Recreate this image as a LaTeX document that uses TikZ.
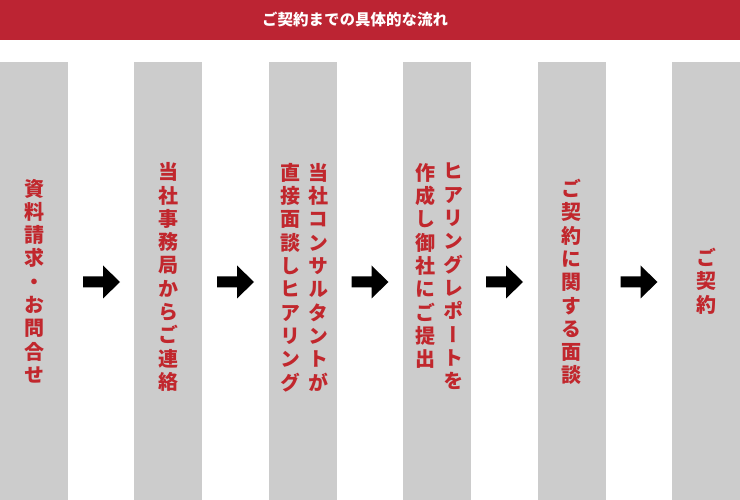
\documentclass[tikz,border=0pt]{standalone}
\usepackage{fontspec}
\newfontfamily\jp[RawFeature={+vert}]{Noto Sans CJK JP}
\definecolor{bannerred}{HTML}{BC2433}
\definecolor{txtred}{HTML}{C1272D}
\definecolor{colgray}{HTML}{CCCCCC}
\tikzset{
  colbox/.style={fill=colgray, draw=none, minimum width=68pt, minimum height=438pt, inner sep=0, anchor=north},
  vtext/.style={text=txtred, font=\jp\bfseries\fontsize{20}{23.3}\selectfont, align=center, inner sep=0},
  flowarrow/.style={fill=black}
}
\newcommand\flowarrowat[1]{\fill[flowarrow] ($(#1)+(-18.5,-5.5)$) -- ($(#1)+(1.5,-5.5)$) -- ($(#1)+(1.5,-16.5)$) -- ($(#1)+(18.5,0)$) -- ($(#1)+(1.5,16.5)$) -- ($(#1)+(1.5,5.5)$) -- ($(#1)+(-18.5,5.5)$) -- cycle;}
\usetikzlibrary{calc}
\begin{document}
\begin{tikzpicture}[x=1pt,y=-1pt]
\useasboundingbox (0,0) rectangle (740,500);
\fill[bannerred] (0,0) rectangle (740,40);
\node[text=white, font=\jp\bfseries\fontsize{15.5}{18}\selectfont, inner sep=0] (title) at (355,20) {ご契約までの具体的な流れ};
% columns
\node[colbox] (c1) at (34,62) {};
\node[colbox] (c2) at (168,62) {};
\node[colbox] (c3) at (303,62) {};
\node[colbox] (c4) at (437,62) {};
\node[colbox] (c5) at (571.5,62) {};
\node[colbox] (c6) at (706,62) {};
% texts
\node[vtext] (t1) at (34,281) {資\\料\\請\\求\\・\\お\\問\\合\\せ};
\node[vtext] (t2) at (168,277) {当\\社\\事\\務\\局\\か\\ら\\ご\\連\\絡};
\node[vtext, anchor=north] (t3a) at (318,163) {当\\社\\コ\\ン\\サ\\ル\\タ\\ン\\ト\\が};
\node[vtext, anchor=north] (t3b) at (290,163) {直\\接\\面\\談\\し\\ヒ\\ア\\リ\\ン\\グ};
\node[vtext, anchor=north] (t4a) at (453,163) {ヒ\\ア\\リ\\ン\\グ\\レ\\ポ\\ー\\ト\\を};
\node[vtext, anchor=north] (t4b) at (425,163) {作\\成\\し\\御\\社\\に\\ご\\提\\出};
\node[vtext] (t5) at (571.5,282) {ご\\契\\約\\に\\関\\す\\る\\面\\談};
\node[vtext] (t6) at (706,281) {ご\\契\\約};
% arrows
\coordinate (a1) at (101.5,282);
\coordinate (a2) at (235.5,282);
\coordinate (a3) at (370,282);
\coordinate (a4) at (504.5,282);
\coordinate (a5) at (639,282);
\flowarrowat{a1}
\flowarrowat{a2}
\flowarrowat{a3}
\flowarrowat{a4}
\flowarrowat{a5}
\end{tikzpicture}
\end{document}
